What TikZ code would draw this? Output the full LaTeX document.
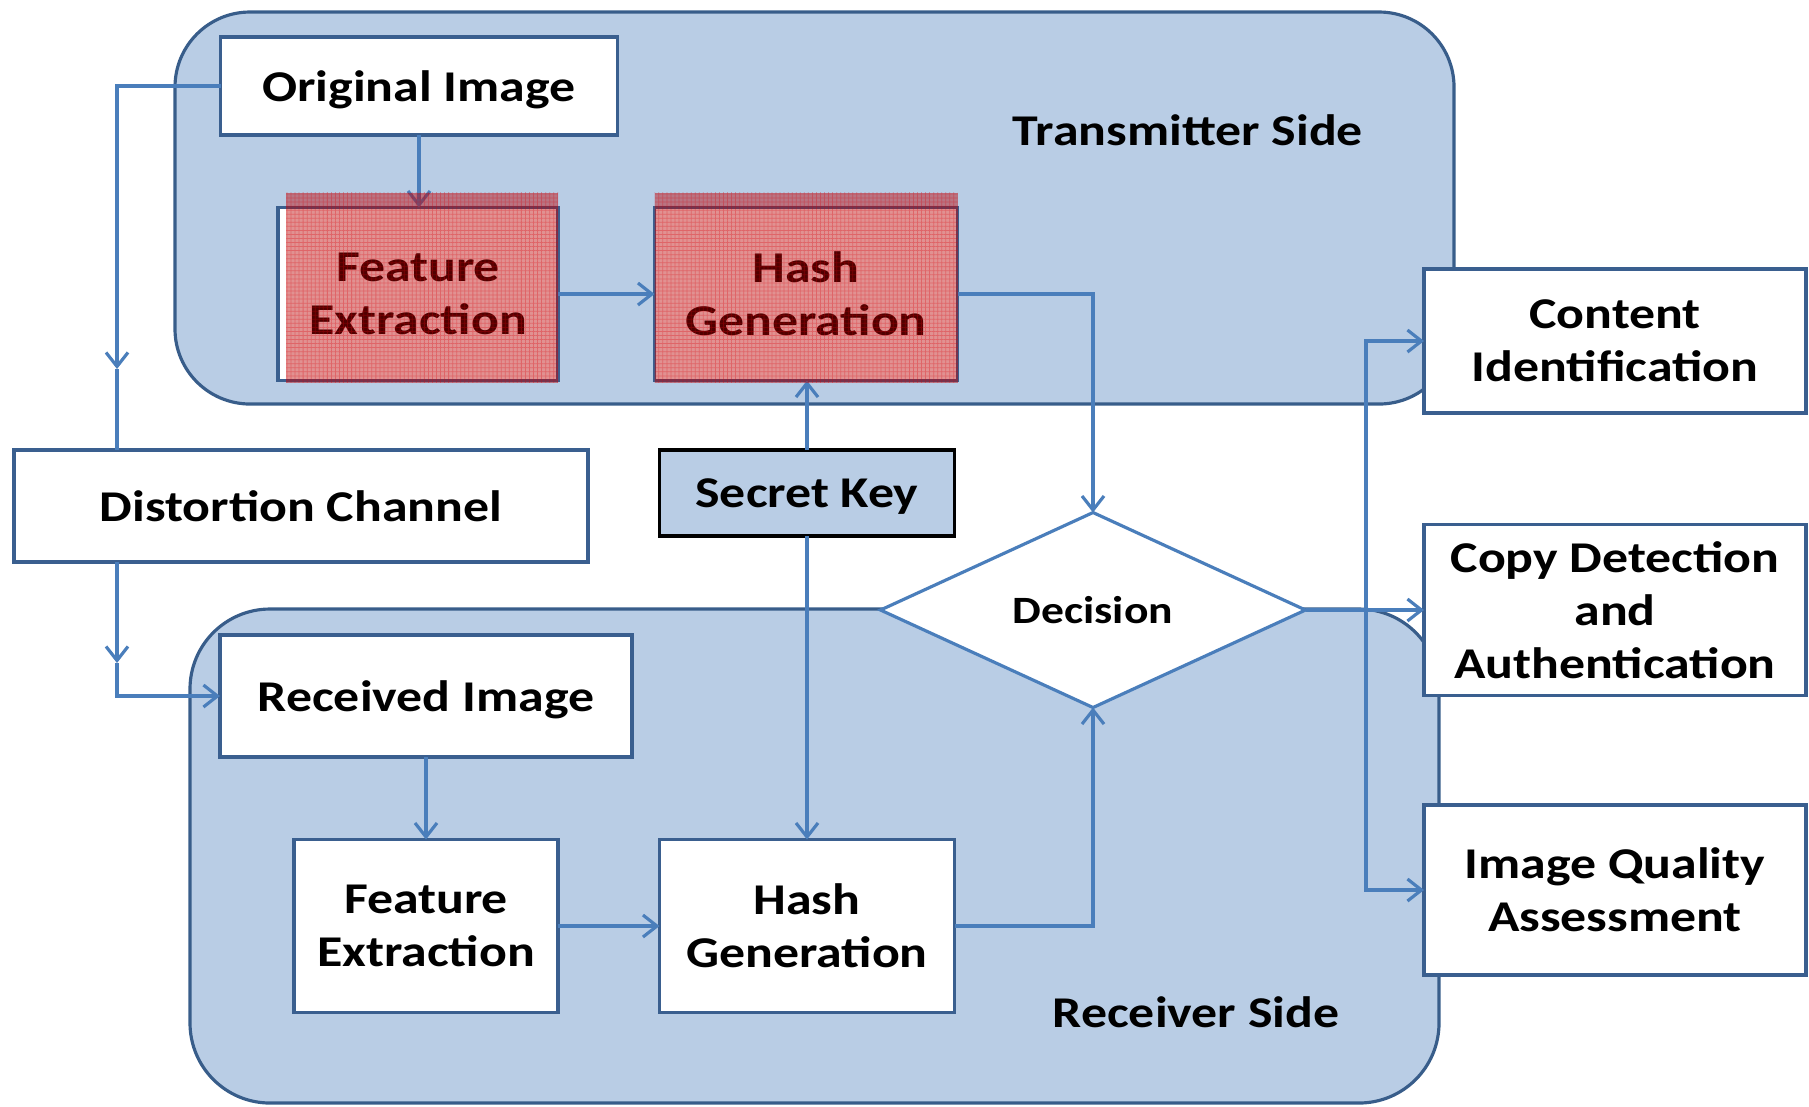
\documentclass[tikz,border=0pt]{standalone}
\usepackage{fontspec}
\setmainfont{Carlito}[FakeStretch=1.18]
\usetikzlibrary{arrows.meta,shapes.geometric,patterns.meta}
\definecolor{panelfill}{RGB}{185,205,229}
\definecolor{panelline}{RGB}{56,93,138}
\definecolor{boxline}{RGB}{58,95,143}
\definecolor{wirecol}{RGB}{74,126,187}
\definecolor{hotfill}{RGB}{186,0,0}
\definecolor{hotgrid}{RGB}{220,0,10}
\newcommand\blocktext{\bfseries\fontsize{12.5}{15}\selectfont}
\newcommand\smalltext{\bfseries\fontsize{11}{13}\selectfont}
\tikzset{
  panel/.style={draw=panelline, fill=panelfill, line width=0.9pt},
  block/.style={draw=boxline, fill=white, line width=0.9pt, inner sep=0pt,
    outer sep=0pt, align=center, font=\blocktext},
  oneline/.style={text depth=0pt},
  keybox/.style={block, draw=black, fill=panelfill},
  sidelabel/.style={font=\blocktext, inner sep=0pt},
  wire/.style={draw=wirecol, line width=0.9pt,
    -{Straight Barb[length=1.4mm,width=2.2mm,line width=0.9pt]}},
  plainwire/.style={draw=wirecol, line width=0.9pt},
  tint/.style={fill=hotfill, fill opacity=0.43, draw=none},
  tintgrid/.style={pattern={Hatch[angle=0,distance=1.15pt,line width=0.22pt]},
    pattern color=hotgrid}
}
\begin{document}
\begin{tikzpicture}[x=0.1mm,y=-0.1mm]
\useasboundingbox (0,0) rectangle (1809,1106);

% transmitter and receiver panels
\draw[panel, rounded corners=7.5mm] (175,12) rectangle (1454,404);
\draw[panel, rounded corners=8mm] (190,609) rectangle (1439,1103);

% transmitter blocks
\node[block, oneline, minimum width=39.7mm, minimum height=9.8mm] (orig) at (419,86) {Original Image};
\node[block, minimum width=28mm, minimum height=17.3mm] (feT) at (418,294) {Feature\\Extraction};
\node[block, minimum width=30.3mm, minimum height=17.3mm] (hgT) at (806,294) {Hash\\Generation};
\node[sidelabel] (txlabel) at (1188,130) {Transmitter Side};

% channel and key
\node[block, oneline, minimum width=57.4mm, minimum height=11.2mm] (dist) at (301,506) {Distortion Channel};
\node[keybox, oneline, minimum width=29.5mm, minimum height=8.6mm] (key) at (807,493) {Secret Key};

% receiver blocks
\node[block, oneline, minimum width=41.2mm, minimum height=12.2mm] (recv) at (426,696) {Received Image};
\node[block, minimum width=26.4mm, minimum height=17.3mm] (feB) at (426,926) {Feature\\Extraction};
\node[block, minimum width=29.5mm, minimum height=17.3mm] (hgB) at (807,926) {Hash\\Generation};
\node[sidelabel] (rxlabel) at (1196,1012) {Receiver Side};

% decision
\node[diamond, draw=wirecol, fill=white, line width=0.9pt, inner sep=0pt, outer sep=0pt,
  minimum width=42.5mm, minimum height=19.5mm, font=\smalltext, text depth=0pt] (dec) at (1093,610) {Decision};

% applications
\node[block, minimum width=38.2mm, minimum height=14.4mm] (content) at (1615,341) {Content\\Identification};
\node[block, minimum width=38.2mm, minimum height=17.1mm] (copy) at (1615,610) {Copy Detection\\and\\Authentication};
\node[block, minimum width=38.2mm, minimum height=17mm] (quality) at (1615,890) {Image Quality\\Assessment};

% connectors
\coordinate (trunkA) at (117,369);
\draw[wire] (orig.west) -| (trunkA);
\draw[plainwire] (trunkA) -- (trunkA |- dist.north);
\draw[wire] (orig.south) -- (feT.north -| orig.south);
\draw[wire] (feT.east) -- (hgT.west);
\draw[wire] (key.north) -- (hgT.south -| key.north);
\draw[wire] (hgT.east) -| (dec.north);
\draw[wire] (key.south) -- (hgB.north -| key.south);

\coordinate (trunkB) at (117,663);
\draw[wire] (trunkB |- dist.south) -- (trunkB);
\draw[wire] (trunkB) |- (recv.west);
\draw[wire] (recv.south -| feB.north) -- (feB.north);
\draw[wire] (feB.east) -- (hgB.west);
\draw[wire] (hgB.east) -| (dec.south);

\coordinate (trunkC) at (1366,610);
\draw[wire] (dec.east) -- (copy.west);
\draw[wire] (trunkC) |- (content.west);
\draw[wire] (trunkC) |- (quality.west);

% red tint over the transmitter processing blocks
\path[tint] ([shift={(8,-15)}]feT.north west) rectangle ([shift={(0,2)}]feT.south east);
\path[tint] ([shift={(0,-15)}]hgT.north west) rectangle ([shift={(0,2)}]hgT.south east);
\begin{scope}[transparency group, opacity=0.3]
  \path[tintgrid] ([shift={(8,-15)}]feT.north west) rectangle ([shift={(0,2)}]feT.south east);
  \path[tintgrid] ([shift={(0,-15)}]hgT.north west) rectangle ([shift={(0,2)}]hgT.south east);
\end{scope}
\end{tikzpicture}
\end{document}
